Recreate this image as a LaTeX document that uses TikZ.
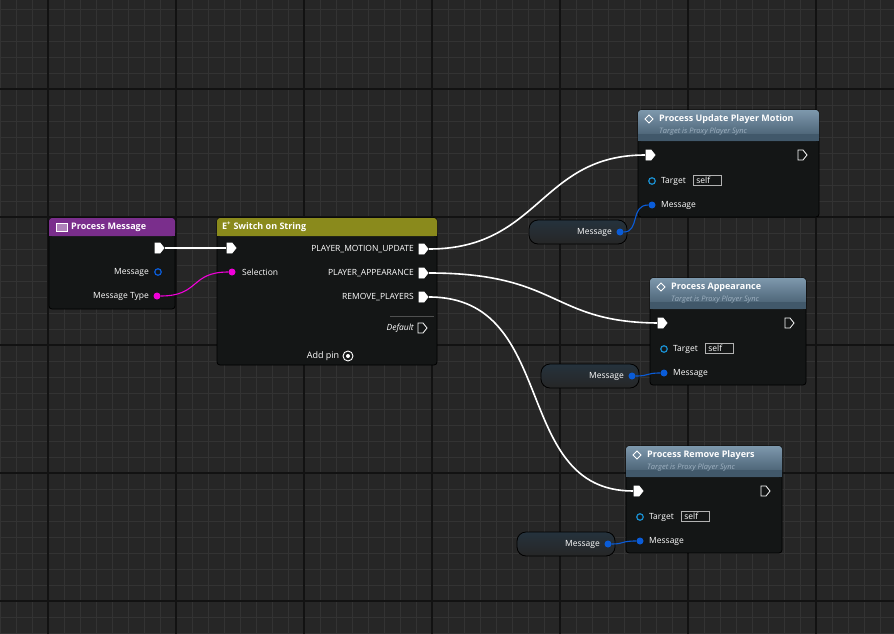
\documentclass[tikz,border=0pt]{standalone}
\usepackage{fontspec}
\setmainfont{Open Sans}
\usetikzlibrary{positioning,calc}
\definecolor{bg}{HTML}{262626}
\definecolor{minor}{HTML}{333333}
\definecolor{major}{HTML}{121212}
\definecolor{body}{HTML}{141616}
\definecolor{purp}{HTML}{7A2E8C}
\definecolor{olive}{HTML}{8A8A1C}
\definecolor{steel}{HTML}{5D7E98}
\definecolor{pinpink}{HTML}{F000D8}
\definecolor{pinblue}{HTML}{0A5CD8}
\definecolor{pincyan}{HTML}{1A8FD0}
\tikzset{
  box/.style={draw=black, fill=body, rounded corners=3pt, line width=0.8pt},
  head/.style={text=white, font=\fontsize{9}{10}\selectfont\bfseries, anchor=west, inner sep=0pt},
  sub/.style={text=steel!60!white, font=\fontsize{7.5}{8}\selectfont\itshape, anchor=west, inner sep=0pt},
  lbl/.style={text=white, font=\fontsize{8.5}{10}\selectfont, inner sep=0pt},
  wire/.style={draw=white, line width=1.6pt},
  pwire/.style={draw=pinpink, line width=1.1pt},
  bwire/.style={draw=pinblue, line width=1.1pt},
  dot/.style={circle, fill=#1, inner sep=0pt, minimum size=7pt},
  ring/.style={circle, draw=#1, line width=1.2pt, inner sep=0pt, minimum size=6.5pt},
  pill/.style={draw=black, rounded corners=9pt, top color=steel!40!black, bottom color=black!85, line width=0.8pt},
}
\newcommand{\exec}[3]{% name, position, fill
  \coordinate (#1) at #2;
  \draw[white, fill=#3, line width=0.8pt] ($(#1)+(-4,-5)$) -- ++(5,0) -- ++(4,5) -- ++(-4,5) -- ++(-5,0) -- cycle;}
\newcommand{\callnode}[5]{% name, x, y, width, title
  \draw[box] (#2,#3) rectangle ++(#4,107);
  \fill[top color=steel!80!white, bottom color=steel!70!black, rounded corners=3pt] (#2,#3) rectangle ++(#4,31);
  \fill[steel!70!black] (#2,#3+24) rectangle ++(#4,7);
  \draw[white, line width=0.9pt] (#2+11,#3+5) -- ++(4,4) -- ++(-4,4) -- ++(-4,-4) -- cycle;
  \node[head] (#1) at (#2+21,#3+9) {#5};
  \node[sub] at (#2+21,#3+22) {Target is Proxy Player Sync};
  \exec{#1in}{(#2+12,#3+45)}{white}
  \exec{#1out}{(#2+#4-17,#3+45)}{body}
  \node[ring=pincyan] (#1tg) at (#2+14,#3+71) {};
  \node[lbl, anchor=west] at (#2+23,#3+71) {Target};
  \node[draw=white!70!black, lbl, inner sep=2pt, minimum width=28pt, anchor=west, align=left] at (#2+55,#3+70) {self\hspace*{8pt}};
  \node[dot=pinblue] (#1msg) at (#2+14,#3+95) {};
  \node[lbl, anchor=west] at (#2+23,#3+95) {Message};}
\begin{document}
\begin{tikzpicture}[x=1pt, y=-1pt]
  \useasboundingbox (0,0) rectangle (894,634);
  \fill[bg] (0,0) rectangle (894,634);
  % grid
  \foreach \i in {0,16,...,894} \draw[minor, line width=0.7pt] (\i,0) -- (\i,634);
  \foreach \j in {9,25,...,634} \draw[minor, line width=0.7pt] (0,\j) -- (894,\j);
  \foreach \i in {48,176,...,894} \draw[major, line width=1.5pt] (\i,0) -- (\i,634);
  \foreach \j in {89,217,...,634} \draw[major, line width=1.5pt] (0,\j) -- (894,\j);

  % Process Message
  \draw[box] (49,218) rectangle (175,309);
  \fill[purp, rounded corners=3pt] (49,218) rectangle (175,236);
  \fill[purp] (49,230) rectangle (175,236);
  \draw[white, fill=purp!60!white, line width=0.5pt] (56,223) rectangle (67,231);
  \node[head] (pm) at (71,227) {Process Message};
  \exec{pmout}{(159,248)}{white}
  \node[ring=pinblue] (pmmsg) at (158,272) {};
  \node[lbl, anchor=east] at (149,272) {Message};
  \node[dot=pinpink] (pmtype) at (157,296) {};
  \node[lbl, anchor=east] at (149,296) {Message Type};

  % Switch on String
  \draw[box] (217,218) rectangle (437,365);
  \fill[olive, rounded corners=3pt] (217,218) rectangle (437,236);
  \fill[olive] (217,230) rectangle (437,236);
  \node[head] (sw) at (222,227) {E\textsuperscript{+}\ Switch on String};
  \exec{swin}{(231,248)}{white}
  \node[dot=pinpink] (swsel) at (232,272) {};
  \node[lbl, anchor=west] at (242,272) {Selection};
  \exec{swa}{(423,249)}{white}
  \node[lbl, anchor=east] at (414,249) {PLAYER\_MOTION\_UPDATE};
  \exec{swb}{(423,273)}{white}
  \node[lbl, anchor=east] at (414,273) {PLAYER\_APPEARANCE};
  \exec{swc}{(423,297)}{white}
  \node[lbl, anchor=east] at (414,297) {REMOVE\_PLAYERS};
  \draw[white!25!body] (390,316) -- (434,316);
  \exec{swd}{(422,328)}{body}
  \node[lbl, anchor=east, font=\fontsize{8.5}{10}\selectfont\itshape] at (414,328) {Default};
  \node[lbl, font=\fontsize{9}{10}\selectfont] (addpin) at (323,356) {Add pin};
  \node[circle, draw=white, line width=0.9pt, minimum size=10pt, inner sep=0pt] (addc) at (348,356) {};
  \fill[white] (addc) circle (2pt);

  % calls
  \callnode{pu}{638}{110}{181}{Process Update Player Motion}
  \callnode{pa}{650}{278}{156}{Process Appearance}
  \callnode{pr}{626}{446}{156}{Process Remove Players}

  % Message getters
  \foreach \x/\y/\nm in {529/220/ga, 541/364/gb, 517/532/gc} {
    \draw[pill] (\x,\y) rectangle ++(98,24);
    \node[lbl, anchor=east] at (\x+83,\y+12) {Message};
  }
  \node[dot=pinblue] (ga) at (620,232) {};
  \node[dot=pinblue] (gb) at (632,376) {};
  \node[dot=pinblue] (gc) at (608,544) {};

  % wires
  \draw[wire] ($(pmout)+(6,0)$) -- ($(swin)+(-5,0)$);
  \draw[pwire] (pmtype) .. controls (200,296) and (190,272) .. (swsel);
  \draw[wire] ($(swa)+(6,0)$) .. controls (540,249) and (540,155) .. ($(puin)+(-5,0)$);
  \draw[wire] ($(swb)+(6,0)$) .. controls (560,273) and (550,322) .. ($(pain)+(-5,0)$);
  \draw[wire] ($(swc)+(6,0)$) .. controls (560,297) and (510,491) .. ($(prin)+(-5,0)$);
  \draw[bwire] (ga) .. controls (640,232) and (630,205) .. (pumsg);
  \draw[bwire] (gb) .. controls (650,376) and (645,373) .. (pamsg);
  \draw[bwire] (gc) .. controls (625,544) and (620,541) .. (prmsg);
\end{tikzpicture}
\end{document}
